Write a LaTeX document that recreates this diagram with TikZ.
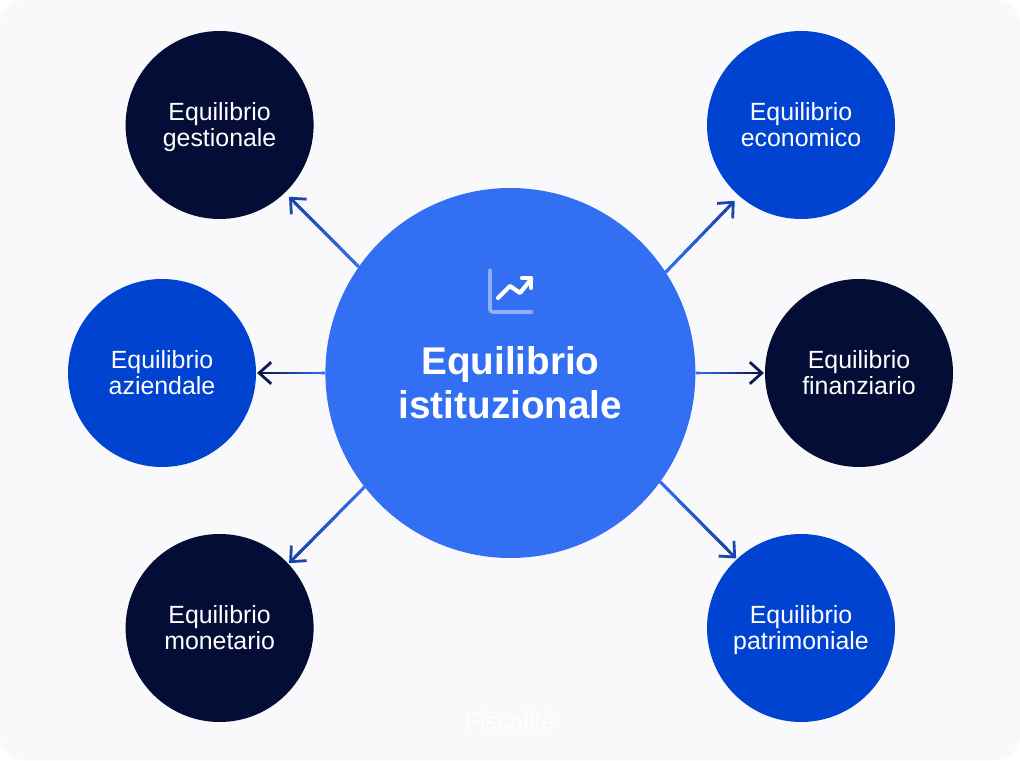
\documentclass[tikz,border=0pt]{standalone}
\usepackage{fontspec}
\setmainfont{Liberation Sans}
\usetikzlibrary{arrows.meta,calc}
\definecolor{pagebg}{HTML}{F9F9FC}
\definecolor{hubblue}{HTML}{326FF2}
\definecolor{midblue}{HTML}{0043D1}
\definecolor{navy}{HTML}{040D36}
\definecolor{iconblue}{HTML}{8FB0F8}
\definecolor{tipblue}{HTML}{1A45AC}
\definecolor{tipnavy}{HTML}{0A1A52}
\tikzset{
  hub/.style={circle,fill=hubblue,minimum size=9.25cm,inner sep=0pt},
  hubtext/.style={text=white,align=center,font=\fontsize{27.5}{31.3}\selectfont\bfseries},
  satellite/.style={circle,text=white,minimum size=4.7cm,inner sep=0pt,align=center,font=\fontsize{17.7}{18.6}\selectfont,text height=36.5pt,text depth=5.6pt},
  linkline/.style={line width=2pt,-{Straight Barb[length=3mm,width=5.4mm,line width=2pt]}},
}
\newcommand{\linkarrow}[4]{%
  \draw[linkline,#4,shorten >=#3] (#1) -- (#2);
  \foreach \i in {0,...,17}{
    \pgfmathsetmacro{\mixv}{100-\i*100/17}
    \draw[line width=2pt,hubblue!\mixv!#4] ($(#1)!{\i/20}!(#2)$) -- ($(#1)!{(\i+1.2)/20}!(#2)$);
  }
}
\begin{document}
\begin{tikzpicture}
  \useasboundingbox (0,0) rectangle (25.5,19);
  \fill[pagebg,rounded corners=0.6cm] (0,0) rectangle (25.5,19);

  %circles
  \node[hub] (hub) at (12.76,9.675) {};
  \node[satellite,fill=navy] (gest) at (5.49,15.875) {Equilibrio\\gestionale};
  \node[satellite,fill=midblue] (econ) at (20.025,15.875) {Equilibrio\\economico};
  \node[satellite,fill=midblue] (azi) at (4.05,9.675) {Equilibrio\\aziendale};
  \node[satellite,fill=navy] (fin) at (21.475,9.675) {Equilibrio\\finanziario};
  \node[satellite,fill=navy] (mon) at (5.49,3.3) {Equilibrio\\monetario};
  \node[satellite,fill=midblue] (pat) at (20.025,3.3) {Equilibrio\\patrimoniale};

  %hub text
  \node[hubtext] (hublabel) at (12.76,9.44) {Equilibrio\\istituzionale};
  \node[text=white,font=\fontsize{17.5}{20}\selectfont] (fisc) at (12.75,0.99) {Fiscalité};

  %icon
  \draw[iconblue,line width=2.6pt,line cap=round,rounded corners=2pt] (12.25,12.25)--(12.25,11.2)--(13.3,11.2);
  \draw[white,line width=3pt,line cap=round,line join=round] (12.45,11.55)--(12.75,11.85)--(13,11.675)--(13.28,12.025);
  \draw[white,line width=3pt,line cap=round,line join=round] (13.05,12.05)--(13.28,12.05)--(13.28,11.8);

  %arrows
  \linkarrow{hub.145}{gest.-46}{0.14cm}{tipblue}
  \linkarrow{hub.33.6}{econ.229}{0.16cm}{tipblue}
  \linkarrow{hub.180}{azi.0}{0.02cm}{tipnavy}
  \linkarrow{hub.0}{fin.180}{0.02cm}{tipnavy}
  \linkarrow{hub.218.4}{mon.43}{0.02cm}{tipblue}
  \linkarrow{hub.-36.7}{pat.133.7}{0.02cm}{tipblue}
\end{tikzpicture}
\end{document}
